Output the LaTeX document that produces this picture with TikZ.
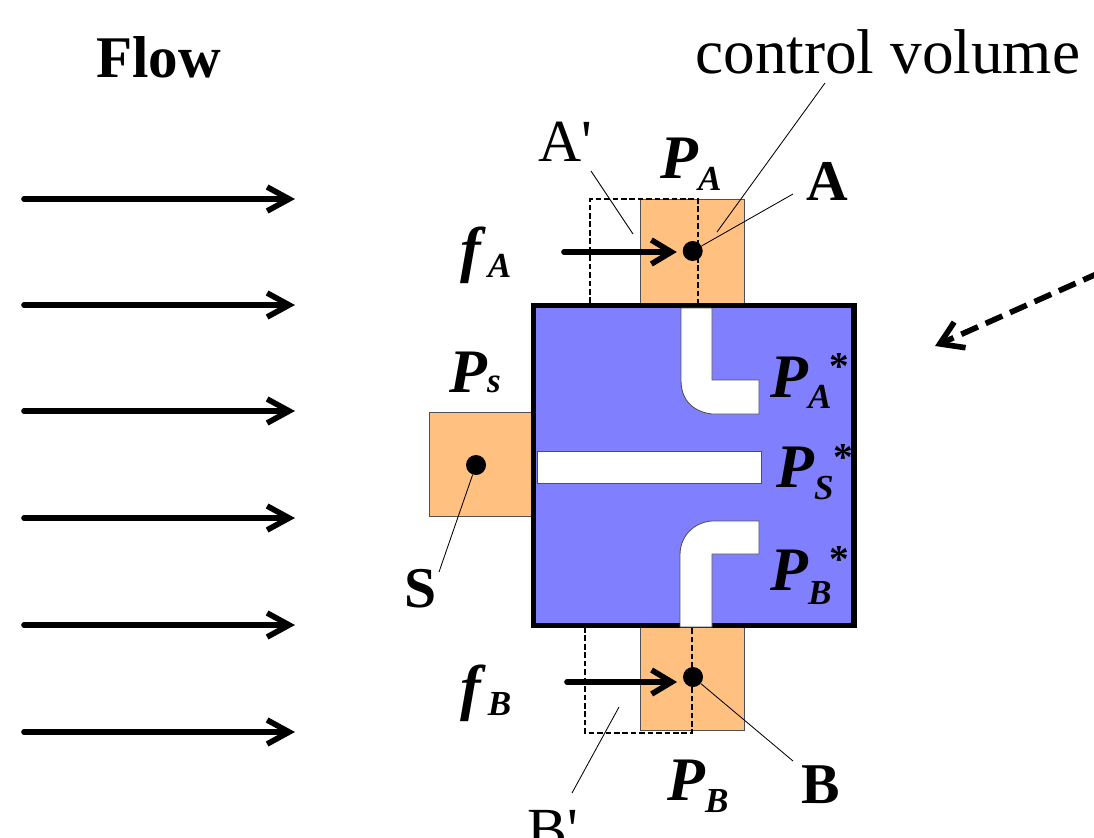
\documentclass[tikz,border=0pt]{standalone}
\usepackage{xcolor}
\usepackage{fontspec}
\setmainfont{Liberation Serif}
\newfontfamily\plainfont{Liberation Serif}
\usetikzlibrary{arrows.meta, positioning}
\definecolor{portfill}{HTML}{FFC080}
\definecolor{bodyfill}{HTML}{8080FF}
\definecolor{edgegray}{HTML}{505050}
\newcommand{\bigfont}{\fontsize{44}{44}\selectfont}
\newcommand{\subfont}{\fontsize{25}{25}\selectfont}
\newcommand{\varsub}[3][-8pt]{\textbf{\textit{#2\raisebox{#1}{\subfont #3}}}}

\begin{document}
\begin{tikzpicture}[
    x=0.025cm, y=-0.025cm,
    portbox/.style={rectangle, draw=edgegray, line width=0.6pt, fill=portfill, minimum size=2.6cm, inner sep=0pt},
    probe/.style={circle, fill=black, minimum size=0.5cm, inner sep=0pt},
    slot/.style={draw=edgegray, line width=0.6pt, fill=white},
    leader/.style={line width=0.6pt},
    shifted/.style={dashed, dash pattern=on 4pt off 2pt, line width=0.9pt},
    label/.style={anchor=base west, inner sep=0pt, font=\bigfont},
    flowarrow/.style={-{Straight Barb[length=5.5mm, width=6mm, line width=4pt]}, line width=4pt, line cap=round},
    forcearrow/.style={-{Straight Barb[length=5mm, width=6mm, line width=4pt]}, line width=4pt, line cap=round, shorten >=4pt}
]
\useasboundingbox (0,0) rectangle (1094,837);

% Flow arrows
\foreach \yrow/\name in {199/a, 305/b, 411/c, 518/d, 625/e, 732/f} {
    \coordinate (flow\name1) at (24,\yrow);
    \coordinate (flow\name2) at (295,\yrow);
    \draw[flowarrow] (flow\name1) -- (flow\name2);
}

% Pressure ports
\node[portbox] (portA) at (692,251) {};
\node[portbox] (portS) at (481,464) {};
\node[portbox] (portB) at (692,678) {};

% Shifted control volumes
\draw[shifted] (590,303) -- (590,199) -- (698,199) -- (698,303);
\draw[shifted] (585,627) -- (585,733) -- (692,733) -- (692,627);

% Body
\node[rectangle, draw=black, line width=3.6pt, fill=bodyfill, minimum width=8.01cm, minimum height=8cm, inner sep=0pt] (body) at (693.75,465.25) {};

% Channels
\draw[slot] (681,308) -- (712,308) -- (712,380) -- (759,380) -- (759,414) -- (712,414) .. controls (695,412) and (681,402) .. (681,380) -- cycle;
\draw[slot] (537,451) rectangle (761,483);
\draw[slot] (680,627) -- (712,627) -- (712,554) -- (759,554) -- (759,521) -- (712,521) .. controls (695,522) and (680,535) .. (680,555) -- cycle;

% Probes
\node[probe] (dotA) at (692.7,251) {};
\node[probe] (dotS) at (476,465) {};
\node[probe] (dotB) at (693,677) {};

% Forces
\coordinate (forceA) at (564,252);
\coordinate (forceB) at (567,682);
\draw[forcearrow] (forceA) -- (forceA -| dotA.west);
\draw[forcearrow] (forceB) -- (forceB -| dotB.west);

% Wind direction
\coordinate (windstart) at (1100,272.5);
\coordinate (windend) at (935,346);
\draw[flowarrow, line cap=butt, dash pattern=on 13pt off 6pt, -{Straight Barb[length=5.5mm, width=7mm, line width=4pt]}] (windstart) -- (windend);

% Labels
\node[label, font=\fontsize{42}{42}\selectfont\bfseries] (flowtext) at (96,77) {Flow};
\node[label, font=\fontsize{45}{45}\selectfont] (cvtext) at (695,73) {control volume};
\node[label, font=\plainfont\fontsize{42.5}{42.5}\selectfont] (aprime) at (538,161) {A'};
\node[label, font=\plainfont\fontsize{42.5}{42.5}\selectfont] (bprime) at (527,849) {B'};
\node[label, font=\fontsize{41}{41}\selectfont\bfseries] (atext) at (806,200) {A};
\node[label, font=\fontsize{41}{41}\selectfont\bfseries] (btext) at (801,803) {B};
\node[label, font=\fontsize{41}{41}\selectfont\bfseries] (stext) at (404,607) {S};
\node[label] (pa) at (660,178) {\varsub[-9pt]{P}{A}};
\node[label] (pb) at (667,800) {\varsub[-9pt]{P}{B}};
\node[label] (ps) at (449,392) {\varsub[0pt]{P}{s}};
\node[label] (fa) at (460,270) {\varsub[-5pt]{f\kern5pt}{A}};
\node[label] (fb) at (460,708) {\varsub[-5pt]{f\kern5pt}{B}};
\node[label] (pastar) at (770,397) {\varsub{P}{A}};
\node[label] (psstar) at (776,487) {\varsub[-9pt]{P}{S}};
\node[label] (pbstar) at (770,590) {\varsub[-10pt]{P}{B}};
\node[label, font=\fontsize{28}{28}\selectfont\bfseries] (astar) at (829,379) {*};
\node[label, font=\fontsize{28}{28}\selectfont\bfseries] (sstar) at (833,470) {*};
\node[label, font=\fontsize{28}{28}\selectfont\bfseries] (bstar) at (829,572) {*};

% Leaders
\coordinate (aprimedot) at (633,234);
\coordinate (bprimedot) at (619,707);
\coordinate (cvdotA) at (717,232);
\coordinate (cvtop) at (825,83);
\coordinate (aend) at (793,194);
\coordinate (bend) at (793,761);
\coordinate (send) at (439,572);
\coordinate (aprimeend) at (591,171);
\coordinate (bprimeend) at (572,793);
\draw[leader] (aprimeend) -- (aprimedot);
\draw[leader] (bprimeend) -- (bprimedot);
\draw[leader] (cvtop) -- (cvdotA);
\draw[leader] (dotA) -- (aend);
\draw[leader] (dotB) -- (bend);
\draw[leader] (dotS) -- (send);

\end{tikzpicture}
\end{document}
